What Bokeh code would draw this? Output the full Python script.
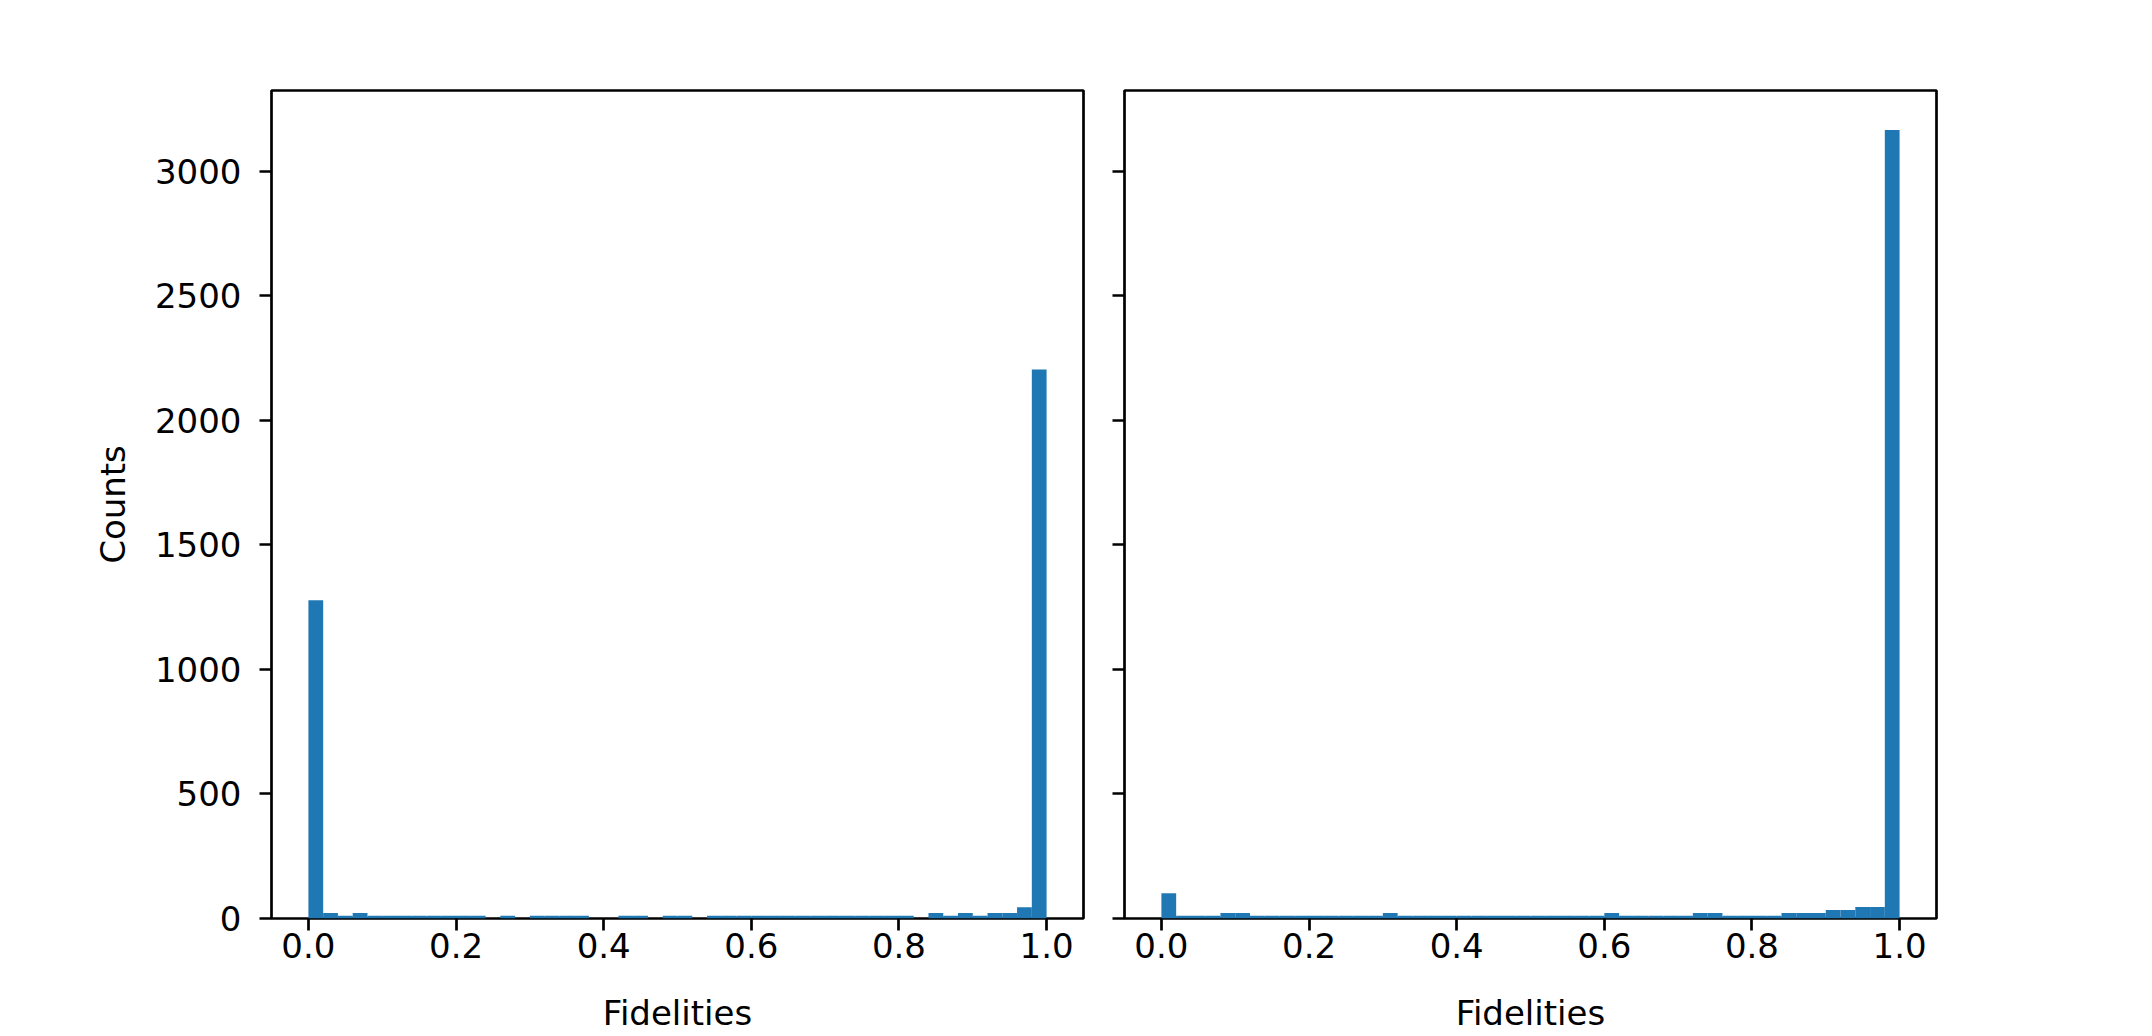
from bokeh.plotting import figure
from bokeh.layouts import row
from bokeh.models import Range1d, FixedTicker, ColumnDataSource
from bokeh.embed import file_html
from bokeh.resources import INLINE

# ---- data ----
bin_edges = [round(i * 0.02, 2) for i in range(51)]

left_counts = [1277, 22, 11, 22, 11, 11, 11, 11, 11, 11, 11, 11,
               0, 11, 0, 11, 11, 11, 11, 0, 0, 11, 11, 0, 11, 11, 0,
               11, 11, 11, 11, 11, 11, 11, 11, 11, 11, 11, 11, 11, 11,
               0, 22, 11, 22, 11, 22, 22, 45, 2203]

right_counts = [101, 11, 11, 11, 22, 22, 11, 11, 11, 11, 11, 11, 11, 11, 11,
                22, 11, 11, 11, 11, 11, 11, 11, 11, 11, 11, 11, 11, 11, 11,
                22, 11, 11, 11, 11, 11, 22, 22, 11, 11, 11, 11, 22, 22, 22,
                34, 34, 46, 46, 3165]

x_ticks = [0.0, 0.2, 0.4, 0.6, 0.8, 1.0]
y_ticks = [0, 500, 1000, 1500, 2000, 2500, 3000]
x_label = "Fidelities"
y_label = "Counts"

BAR = "#1f77b4"
FONT = "DejaVu Sans"
FS = "34px"
LW = 2.7

ymax = max(max(left_counts), max(right_counts)) * 1.05


def make(counts, show_ylabels, mbl, mbr):
    p = figure(frame_width=812, frame_height=828, output_backend="svg",
               toolbar_location=None,
               x_range=Range1d(-0.05, 1.05), y_range=Range1d(0, ymax),
               min_border_left=mbl, min_border_right=mbr,
               min_border_top=90, min_border_bottom=100,
               background_fill_color="white", border_fill_color="white")
    src = ColumnDataSource(dict(left=bin_edges[:-1], right=bin_edges[1:],
                                top=counts, bottom=[0] * len(counts)))
    p.quad(left="left", right="right", top="top", bottom="bottom", source=src,
           fill_color=BAR, line_color=None)
    p.grid.visible = False
    p.outline_line_color = "black"
    p.outline_line_width = LW
    p.outline_line_alpha = 1.0

    for ax in (p.xaxis[0], p.yaxis[0]):
        ax.axis_line_color = None
        ax.major_tick_in = 0
        ax.major_tick_out = 12
        ax.major_tick_line_width = LW
        ax.major_tick_line_color = "black"
        ax.minor_tick_line_color = None
        ax.major_label_text_font = FONT
        ax.major_label_text_font_size = FS
        ax.major_label_text_color = "black"
        ax.axis_label_text_font = FONT
        ax.axis_label_text_font_size = FS
        ax.axis_label_text_font_style = "normal"
        ax.axis_label_text_color = "black"

    xa = p.xaxis[0]
    xa.ticker = FixedTicker(ticks=x_ticks)
    xa.major_label_overrides = {t: f"{t:.1f}" for t in x_ticks}
    xa.major_label_standoff = 2
    xa.axis_label = x_label
    xa.axis_label_standoff = 32

    ya = p.yaxis[0]
    ya.ticker = FixedTicker(ticks=y_ticks)
    if show_ylabels:
        ya.major_label_overrides = {t: str(t) for t in y_ticks}
        ya.major_label_standoff = 18
        ya.axis_label = y_label
        ya.axis_label_standoff = 19
    else:
        ya.major_label_overrides = {t: "" for t in y_ticks}
        ya.major_label_standoff = 0
    return p


p1 = make(left_counts, True, 271, 20)
p2 = make(right_counts, False, 21, 182)

layout = row(p1, p2)
open("out.html", "w").write(file_html(layout, INLINE))
